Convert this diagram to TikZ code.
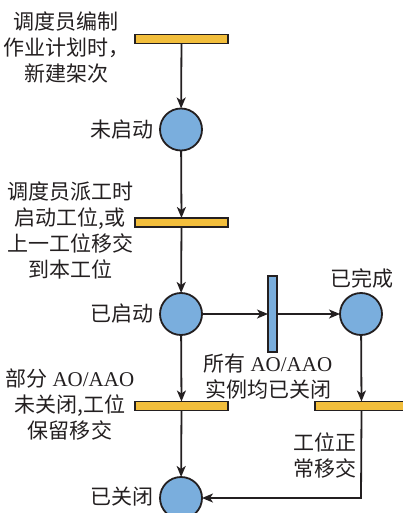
\documentclass[tikz,border=0pt]{standalone}
\usepackage{fontspec}
\setmainfont{Liberation Serif}
\newfontfamily\cjk{Noto Sans CJK SC}
\usetikzlibrary{arrows.meta}
\definecolor{barY}{HTML}{F2BE3C}
\definecolor{circB}{HTML}{7AAEDD}
\definecolor{ink}{HTML}{231F20}
\begin{document}
\begin{tikzpicture}[x=1pt,y=-1pt,
  every node/.style={inner sep=0pt,outer sep=0pt},
  ybar/.style={draw=ink,fill=barY,line width=1.8pt,minimum width=93pt,minimum height=9pt,rectangle},
  vbar/.style={draw=ink,fill=circB,line width=1.8pt,minimum width=9pt,minimum height=76pt,rectangle},
  place/.style={draw=ink,fill=circB,line width=1.8pt,circle,minimum size=42pt},
  lbl/.style={text=ink,align=center,font=\cjk\fontsize{21}{26}\selectfont},
  conn/.style={draw=ink,line width=1.8pt,-{Stealth[length=11pt,width=9pt,inset=3pt]}}
]
\useasboundingbox (0,0) rectangle (403,513);
\clip (0,0) rectangle (403,513);
% transitions
\node[ybar] (b1) at (181.5,39) {};
\node[ybar] (b2) at (181.5,222.5) {};
\node[ybar] (b3) at (181.5,406) {};
\node[ybar] (b4) at (361.5,406) {};
\node[vbar] (vb) at (272.5,314) {};
% places
\node[place] (p1) at (181,129.5) {};
\node[place] (p2) at (181,314) {};
\node[place] (p3) at (361,314) {};
\node[place] (p4) at (181,498) {};
\coordinate (k) at (361,498);
% connectors
\draw[conn] (b1) -- (p1);
\draw[conn] (p1) -- (b2);
\draw[conn] (b2) -- (p2);
\draw[conn] (p2) -- (vb);
\draw[conn] (vb) -- (p3);
\draw[conn] (p2) -- (b3);
\draw[conn] (p3) -- (b4);
\draw[conn] (b3) -- (p4);
\draw[conn] (b4.south) -- (k) -- (p4);
% labels
\node[lbl] (t1) at (66,48) {调度员编制\\作业计划时，\\新建架次};
\node[lbl] (l1) at (122,130) {未启动};
\node[lbl] (t2) at (70,230) {调度员派工时\\启动工位,或\\上一工位移交\\到本工位};
\node[lbl] (l2) at (122,314) {已启动};
\node[lbl] (l3) at (362,278) {已完成};
\node[lbl] (t3) at (268,377) {所有 {\rmfamily AO/AAO}\\实例均已关闭};
\node[lbl] (t4) at (70,405) {部分 {\rmfamily AO/AAO}\\未关闭,工位\\保留移交};
\node[lbl] (t5) at (325,455) {工位正\\常移交};
\node[lbl] (l4) at (122,497) {已关闭};
\end{tikzpicture}
\end{document}
